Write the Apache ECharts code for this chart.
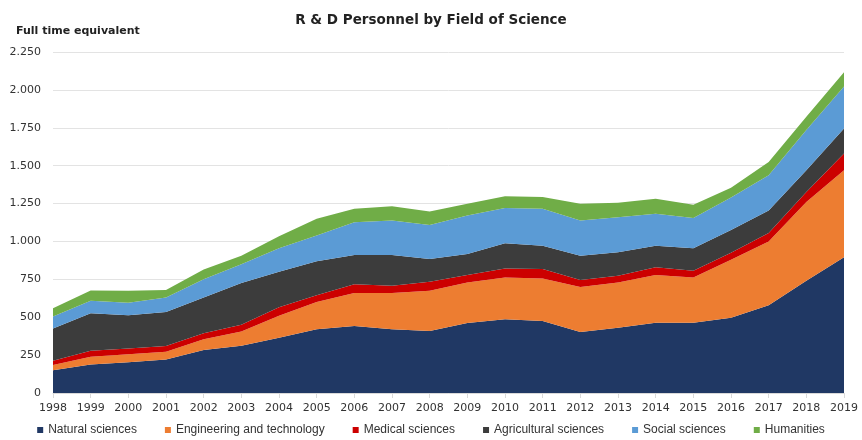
<!DOCTYPE html>
<html>
<head>
<meta charset="utf-8">
<script src="https://cdn.jsdelivr.net/npm/echarts@6/dist/echarts.min.js"></script>
<style>
  html, body { margin: 0; padding: 0; background: #fff; }
  #chart { width: 862px; height: 440px; }
</style>
</head>
<body>
<div id="chart"></div>
<script>
// R&D personnel by field of science (FTE), stacked area
const years = ['1998','1999','2000','2001','2002','2003','2004','2005','2006','2007','2008',
               '2009','2010','2011','2012','2013','2014','2015','2016','2017','2018','2019'];

const natural      = [150,188,203,221,283,312,365,420,442,420,409,462,486,475,402,431,464,464,497,579,740,895];
const engineering  = [35,52,53,51,72,93,145,180,218,239,265,267,276,281,298,298,314,298,383,420,520,575];
const medical      = [27,38,37,38,40,45,55,45,58,48,60,49,60,62,45,44,51,45,45,57,66,110];
const agricultural = [213,248,220,225,235,275,235,225,193,204,150,139,166,154,161,155,143,148,150,148,144,166];
const social       = [80,82,82,95,120,125,155,170,216,227,225,254,232,243,232,232,210,199,215,232,265,276];
const humanities   = [55,68,79,50,65,55,80,110,88,95,89,78,79,78,110,95,100,88,65,89,88,95];

const seriesDefs = [
  { name: 'Natural sciences', data: natural, color: '#203864' },
  { name: 'Engineering and technology', data: engineering, color: '#ed7d31' },
  { name: 'Medical sciences', data: medical, color: '#cc0000' },
  { name: 'Agricultural sciences', data: agricultural, color: '#3c3c3c' },
  { name: 'Social sciences', data: social, color: '#5b9bd5' },
  { name: 'Humanities', data: humanities, color: '#70ad47' }
];

function fmt(v) {
  return String(v).replace(/\B(?=(\d{3})+(?!\d))/g, '.');
}

const chart = echarts.init(document.getElementById('chart'));

const option = {
  animation: false,
  color: seriesDefs.map(s => s.color),
  title: [
    {
      text: 'R & D Personnel by Field of Science',
      left: 'center',
      top: 8,
      textStyle: { fontFamily: 'DejaVu Sans', fontSize: 13.5, fontWeight: 'bold', color: '#222' }
    },
    {
      text: 'Full time equivalent',
      left: 11,
      top: 21,
      textStyle: { fontFamily: 'DejaVu Sans', fontSize: 11, fontWeight: 'bold', color: '#222' }
    }
  ],
  grid: { left: 53, right: 18, top: 52, bottom: 47 },
  legend: {
    top: 422,
    left: 'center',
    icon: 'rect',
    itemWidth: 6,
    itemHeight: 6,
    itemGap: 28,
    padding: [2, 5],
    textStyle: { fontFamily: 'Liberation Sans', fontSize: 12, color: '#333' },
    data: seriesDefs.map(s => s.name)
  },
  xAxis: {
    type: 'category',
    boundaryGap: false,
    data: years,
    axisLine: { lineStyle: { color: '#d9d9d9' } },
    axisTick: { show: true, lineStyle: { color: '#d9d9d9' } },
    axisLabel: { fontFamily: 'DejaVu Sans', fontSize: 11, color: '#333', margin: 10 }
  },
  yAxis: {
    type: 'value',
    min: 0,
    max: 2250,
    interval: 250,
    axisLabel: {
      fontFamily: 'DejaVu Sans', fontSize: 11, color: '#333', margin: 12,
      formatter: v => fmt(v)
    },
    splitLine: { lineStyle: { color: '#e3e3e3' } }
  },
  series: seriesDefs.map(s => ({
    name: s.name,
    type: 'line',
    stack: 'total',
    data: s.data,
    symbol: 'none',
    lineStyle: { width: 0 },
    itemStyle: { color: s.color },
    areaStyle: { color: s.color, opacity: 1 }
  }))
};

chart.setOption(option);
</script>
</body>
</html>
